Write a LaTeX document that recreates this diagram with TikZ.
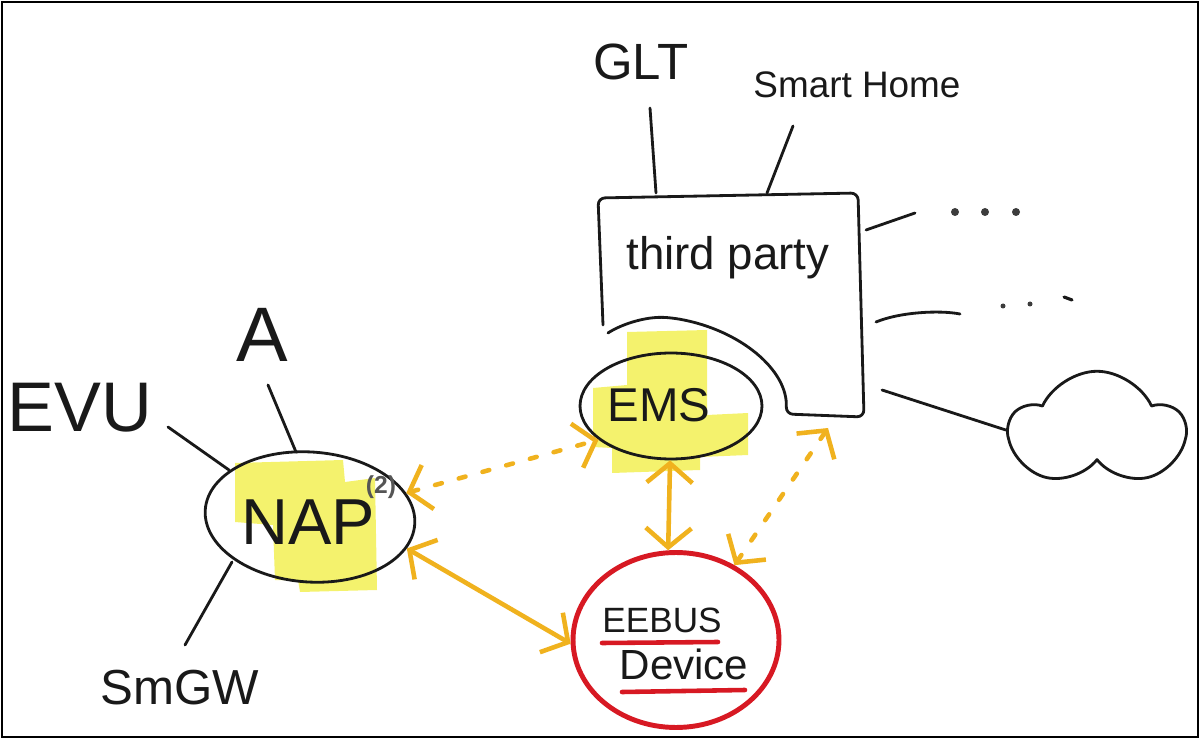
\documentclass[tikz,border=0pt]{standalone}
\usepackage{fontspec}
\setmainfont{Liberation Sans}
\usetikzlibrary{arrows.meta,shapes.geometric,shapes.symbols}
\definecolor{ink}{RGB}{25,25,25}
\definecolor{hl}{RGB}{240,238,60}
\definecolor{arrowc}{RGB}{240,178,30}
\definecolor{redc}{RGB}{215,25,35}
\definecolor{note}{RGB}{85,85,85}
\newcommand{\fs}[1]{\fontsize{#1}{#1}\selectfont}
\begin{document}
\begin{tikzpicture}[x=0.02cm,y=-0.02cm,
  ink/.style={draw=ink,line width=1.6pt,line cap=round,line join=round},
  lbl/.style={text=ink,inner sep=0pt},
  hilite/.style={fill=hl,fill opacity=0.75,draw=none},
  arr/.style={draw=arrowc,line width=2.6pt,line cap=round,
    arrows={Straight Barb[length=11pt,width=26pt]-Straight Barb[length=11pt,width=26pt]}},
  dotarr/.style={arr,dash pattern=on 4pt off 10pt},
  redline/.style={draw=redc,line width=2.6pt,line cap=round},
  dot/.style={circle,fill=ink!85,inner sep=0pt,minimum size=0.16cm}]
\useasboundingbox (0,0) rectangle (1203,749);
\draw[line width=1.3pt] (2,2) rectangle (1198,737);

% highlights
\fill[hilite] (235,463) -- (343,460) -- (345,482) -- (375,478) -- (377,590) -- (300,592)
  -- (298,580) -- (275,580) -- (273,525) -- (235,522) -- cycle;
\fill[hilite] (627,332) -- (707,330) -- (707,415) -- (748,413) -- (748,455) -- (700,457)
  -- (700,470) -- (612,473) -- (612,448) -- (593,447) -- (593,388) -- (627,385) -- cycle;

% third party box
\node[inner sep=0pt,minimum width=5.3cm,minimum height=4.5cm] (tp) at (731,305) {};
\draw[ink,rounded corners=4pt] (603,325) -- (598,198) -- (858,193) -- (864,417) -- (786,414)
  .. controls (788,370) and (740,330) .. (673,318) .. controls (645,316) and (620,325) .. (608,333);
\node[lbl,font=\fs{26}] (tptxt) at (728,258) {third party};

% labels above box
\node[lbl,font=\fs{29}] (glt) at (641,62) {GLT};
\node[lbl,font=\fs{21}] (sh) at (857,85) {Smart Home};
\coordinate (glt1) at (650,108);
\coordinate (glt2) at (656,193);
\coordinate (sh1) at (793,126);
\coordinate (sh2) at (767,193);
\draw[ink] (glt1) -- (glt2);
\draw[ink] (sh1) -- (sh2);

% right side
\coordinate (r1a) at (866,230); \coordinate (r1b) at (915,213);
\draw[ink] (r1a) -- (r1b);
\node[dot] (d1) at (955,212) {};
\node[dot] (d2) at (985,212) {};
\node[dot] (d3) at (1016,212) {};
\coordinate (r2a) at (876,322); \coordinate (r2b) at (960,314);
\draw[ink] (r2a) .. controls (900,312) and (940,310) .. (r2b);
\node[dot,minimum size=0.1cm] (e1) at (1003,306) {};
\node[dot,minimum size=0.1cm] (e2) at (1030,304) {};
\draw[ink,line width=1.8pt] (1064,297) -- (1072,300);
\node[cloud,cloud puffs=5,cloud puff arc=130,aspect=1.45,ink,minimum width=3.45cm,minimum height=2.35cm,inner sep=0pt] (cloud) at (1097,430) {};
\coordinate (r3a) at (882,390);
\draw[ink] (r3a) -- (cloud.west);

% NAP
\node[ellipse,ink,minimum width=4.2cm,minimum height=2.6cm,rotate=-4] (nap) at (310,517) {};
\node[lbl,font=\fs{37}] (naptxt) at (308,522) {NAP};
\node[inner sep=0pt,text=note,font=\fs{14}\bfseries] (two) at (381,487) {(2)};
\node[lbl,font=\fs{40}] (evu) at (80,408) {EVU};
\node[lbl,font=\fs{44}] (alabel) at (262,335) {A};
\node[lbl,font=\fs{28}] (smgw) at (180,688) {SmGW};
\coordinate (evu1) at (168,427); \coordinate (evu2) at (229,470);
\coordinate (a1) at (268,385); \coordinate (a2) at (296,452);
\coordinate (s1) at (185,645); \coordinate (s2) at (232,562);
\draw[ink] (evu1) -- (evu2);
\draw[ink] (a1) -- (a2);
\draw[ink] (s1) -- (s2);

% EMS
\node[ellipse,ink,minimum width=3.64cm,minimum height=2.12cm] (ems) at (671,406) {};
\node[lbl,font=\fs{27}] (emstxt) at (659,405) {EMS};

% EEBUS device
\node[ellipse,draw=redc,line width=2.8pt,minimum width=4.12cm,minimum height=3.5cm] (ee) at (676,640) {};
\node[lbl,font=\fs{20}] (eetxt) at (662,620) {EEBUS};
\node[lbl,font=\fs{24}] (devtxt) at (684,664) {Device};
\draw[redline] (602,643) -- (718,642);
\draw[redline] (622,692) -- (745,690);

% arrows
\coordinate (tpa) at (828,428);
\draw[dotarr] (nap.18) -- (ems.205);
\draw[arr] (nap.-14) -- (ee.182);
\draw[arr] (ems.-91) -- (ee.95);
\draw[dotarr] (ee.52) -- (tpa);
\end{tikzpicture}
\end{document}
